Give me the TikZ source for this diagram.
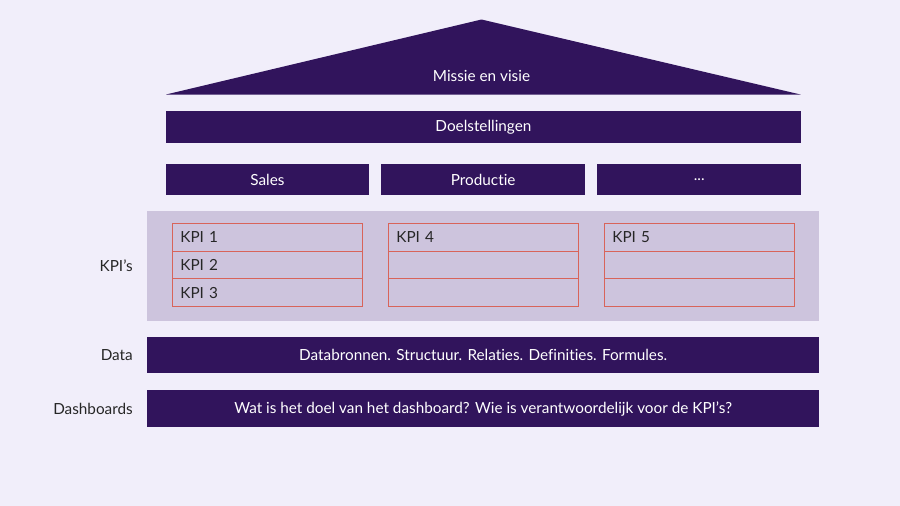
\documentclass[tikz,border=0pt]{standalone}
\usepackage{fontspec}
\setmainfont{Lato}[Ligatures={NoCommon}]
\definecolor{bgc}{HTML}{F1EEFA}
\definecolor{dark}{HTML}{31145C}
\definecolor{kpibg}{HTML}{CDC4DD}
\definecolor{redl}{HTML}{D8645A}
\definecolor{txt}{HTML}{262626}
\newcommand{\fsz}{\fontsize{15.3}{17}\selectfont}
\begin{document}
\begin{tikzpicture}[x=1pt,y=-1pt,
  bar/.style={fill=dark,draw=none,text=white,inner sep=0pt,anchor=north west,font=\fsz},
  cell/.style={draw=redl,line width=0.8pt,fill=none,inner sep=0pt,anchor=north west,minimum width=190pt,minimum height=27.7pt,text width=174pt,align=left,text=txt,font=\fsz},
  side/.style={anchor=east,text=txt,inner sep=0pt,font=\fsz}]
\fill[bgc] (0,0) rectangle (900,506);
\useasboundingbox (0,0) rectangle (900,506);
% roof
\fill[dark] (166,94.5) coordinate (rl) -- (481.5,19.5) coordinate (ra) -- (800.5,94.5) coordinate (rr) -- cycle;
\node[text=white,font=\fsz] (missie) at (481.5,76) {Missie en visie};
% doelstellingen
\node[bar,minimum width=634.5pt,minimum height=32pt] (doel) at (166,111) {Doelstellingen};
% departments
\node[bar,minimum width=203.5pt,minimum height=31pt] (sales) at (165.5,164) {Sales};
\node[bar,minimum width=204pt,minimum height=31pt] (prod) at (381,164) {Productie};
\node[bar,minimum width=204pt,minimum height=31pt] (etc) at (597,164) {...};
% KPI background
\node[fill=kpibg,inner sep=0pt,anchor=north west,minimum width=672pt,minimum height=110pt] (kpibox) at (147,211) {};
% KPI tables
\node[cell] (k1) at (172,223) {KPI 1};
\node[cell] (k2) at (172,250.7) {KPI 2};
\node[cell] (k3) at (172,278.4) {KPI 3};
\node[cell] (k4) at (388,223) {KPI 4};
\node[cell] (k4b) at (388,250.7) {};
\node[cell] (k4c) at (388,278.4) {};
\node[cell] (k5) at (604,223) {KPI 5};
\node[cell] (k5b) at (604,250.7) {};
\node[cell] (k5c) at (604,278.4) {};
% data and dashboards
\node[bar,minimum width=672pt,minimum height=36pt] (data) at (147,337) {Databronnen. Structuur. Relaties. Definities. Formules.};
\node[bar,minimum width=672pt,minimum height=37pt] (dash) at (147,390) {Wat is het doel van het dashboard? Wie is verantwoordelijk voor de KPI’s?};
% side labels
\node[side] (lkpi) at (133,266) {KPI’s};
\node[side] (ldata) at (133,355.5) {Data};
\node[side] (ldash) at (133,408.5) {Dashboards};
\end{tikzpicture}
\end{document}
